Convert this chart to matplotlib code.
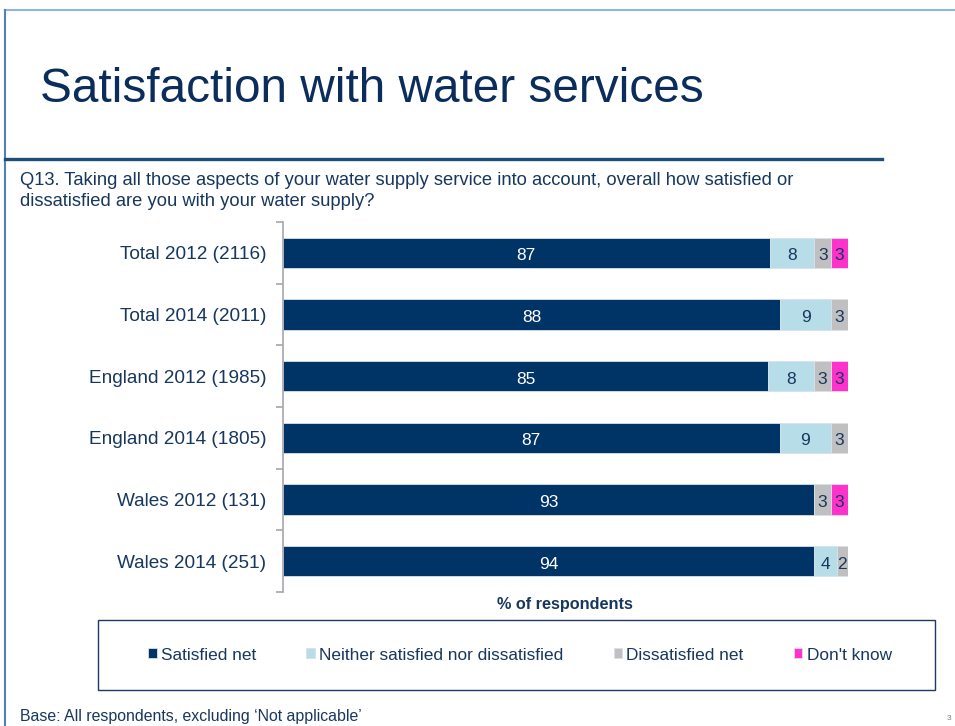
import matplotlib
matplotlib.use("Agg")
import matplotlib.pyplot as plt
import numpy as np
from matplotlib.lines import Line2D
from matplotlib.patches import Rectangle

plt.rcParams['font.family'] = ['Liberation Sans', 'DejaVu Sans']

categories = ["Total 2012 (2116)", "Total 2014 (2011)", "England 2012 (1985)",
              "England 2014 (1805)", "Wales 2012 (131)", "Wales 2014 (251)"]
series_names = ["Satisfied net", "Neither satisfied nor dissatisfied",
                "Dissatisfied net", "Don't know"]
satisfied = [87, 88, 85, 87, 93, 94]
neither = [8, 9, 8, 9, 0, 4]
dissatisfied = [3, 3, 3, 3, 3, 2]
dont_know = [3, 0, 3, 0, 3, 0]

colors = ["#003366", "#B7DDE8", "#C0C0C0", "#FF33CC"]
label_colors = ["white", "#17375E", "#17375E", "#17375E"]
navy = "#17375E"

W, H = 955, 726
fig = plt.figure(figsize=(W / 100, H / 100), dpi=100)


def fx(px):
    return px / W


def fy(py):
    return 1 - py / H


# Slide frame
fig.add_artist(Line2D([fx(5), fx(955)], [fy(10), fy(10)], color="#8EB4E3", lw=1.5))
fig.add_artist(Line2D([fx(5), fx(5)], [fy(10), fy(726)], color="#4F81BD", lw=1.5))
fig.add_artist(Line2D([fx(5), fx(882)], [fy(159), fy(159)], color="#1F4E79", lw=2.4))

fig.text(fx(40), fy(90), "Satisfaction with water services", fontsize=34.4,
         color="#0B2D5B", va="center", ha="left")
fig.text(fx(20), fy(191),
         "Q13. Taking all those aspects of your water supply service into account, overall how satisfied or\n"
         "dissatisfied are you with your water supply?",
         fontsize=13.2, color=navy, va="center", ha="left", linespacing=1.3)

ax = fig.add_axes([fx(283), fy(592), fx(848) - fx(283), (592 - 222) / H])

data = np.array([satisfied, neither, dissatisfied, dont_know], dtype=float)
totals = data.sum(axis=0)
shares = data / totals * 100
y = np.arange(len(categories))

left = np.zeros(len(categories))
handles = []
for i, name in enumerate(series_names):
    bars = ax.barh(y, shares[i], left=left, height=0.49, color=colors[i],
                   edgecolor="#D9E1EA", linewidth=0.6, label=name)
    handles.append(bars)
    for j in range(len(categories)):
        if data[i, j] > 0:
            ax.text(left[j] + shares[i, j] / 2, y[j] + 0.05, f"{int(data[i, j])}",
                    ha="center", va="center", fontsize=12.5,
                    color=label_colors[i])
    left += shares[i]

ax.set_xlim(0, 100)
ax.set_ylim(len(categories) - 0.5, -0.5)
ax.set_yticks(y)
ax.set_yticklabels(categories, fontsize=13.7, color=navy)
ax.tick_params(axis="y", which="major", length=0, pad=12)
ax.set_yticks(np.arange(-0.5, len(categories)), minor=True)
ax.tick_params(axis="y", which="minor", length=5, direction="out",
               color="#A6A6B0", width=1.2)
ax.set_xticks([])
for s in ["top", "right", "bottom"]:
    ax.spines[s].set_visible(False)
ax.spines["left"].set_color("#A6A6B0")
ax.spines["left"].set_linewidth(1.2)

fig.text(fx(565), fy(605), "% of respondents", fontsize=11.7, fontweight="bold",
         color=navy, ha="center", va="center")

# Legend box
fig.add_artist(Rectangle((fx(98), fy(690)), fx(935) - fx(98), (690 - 620) / H,
                         transform=fig.transFigure, fill=False,
                         edgecolor="#1F3864", lw=1.0))
leg = fig.legend(handles=handles, labels=series_names, loc="center",
                 bbox_to_anchor=(fx(520), fy(655)), ncol=4, frameon=False,
                 fontsize=12.4, handlelength=0.5, handleheight=0.5,
                 handletextpad=0.25, columnspacing=2.9)
for t in leg.get_texts():
    t.set_color(navy)

fig.text(fx(20), fy(717), "Base: All respondents, excluding \u2018Not applicable\u2019",
         fontsize=11.4, color=navy, ha="left", va="center")
fig.text(fx(947), fy(718), "3", fontsize=6, color="#7F7F7F", ha="left", va="center")

fig.savefig("out.png", dpi=100)
